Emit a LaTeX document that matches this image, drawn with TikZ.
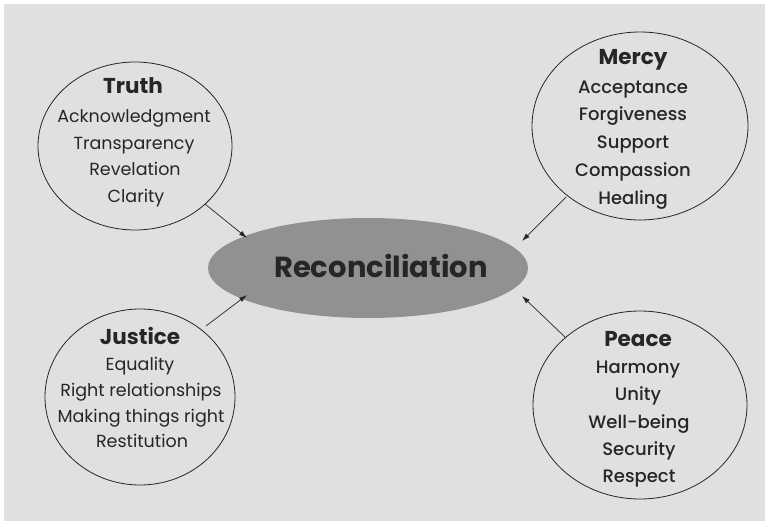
\documentclass[tikz,border=0pt]{standalone}
\usepackage{fontspec}
\setmainfont{Poppins}
\newfontfamily\heavier{Poppins}[UprightFont=* Medium, BoldFont=* SemiBold]
\usetikzlibrary{arrows.meta}
\definecolor{paper}{RGB}{224,224,222}
\definecolor{ink}{RGB}{38,38,38}
\definecolor{hub}{RGB}{145,145,145}
\tikzset{
  rim/.style={draw=ink, line width=0.8pt},
  term/.style={font=\fontsize{17.5}{17.5}\selectfont, text=ink, anchor=center,
    text height=0.75em, text depth=0.22em, inner sep=0pt, yshift=-5pt},
  termm/.style={term, font=\fontsize{18}{18}\selectfont\heavier},
  head/.style={font=\fontsize{21.5}{21.5}\selectfont\bfseries, text=ink, anchor=center,
    text height=0.75em, text depth=0.22em, inner sep=0pt, yshift=-6pt},
  link/.style={draw=ink, line width=0.7pt, -{Latex[length=8pt,width=5pt]}}
}
\begin{document}
\begin{tikzpicture}[x=1pt,y=-1pt]
  \useasboundingbox (0,0) rectangle (765,521);
  \fill[white] (0,0) rectangle (765,521);
  \fill[paper] (4,4) rectangle (765,521);

  % four outer ellipses
  \draw[rim] (135,146) ellipse [x radius=97, y radius=84];
  \draw[rim] (640,126) ellipse [x radius=108, y radius=94];
  \draw[rim] (140,397) ellipse [x radius=95, y radius=88];
  \draw[rim] (640,405) ellipse [x radius=107, y radius=94];

  % central hub
  \fill[hub] (368,268) ellipse [x radius=160, y radius=50];
  \node[head, font=\fontsize{29}{29}\selectfont\bfseries, yshift=-2pt] (hub) at (381,267) {Reconciliation};

  % Truth
  \node[head] (truth) at (133,85) {Truth};
  \node[term] (t1) at (134,115) {Acknowledgment};
  \node[term] (t2) at (134,142) {Transparency};
  \node[term] (t3) at (135,168) {Revelation};
  \node[term] (t4) at (136,195) {Clarity};

  % Mercy
  \node[head] (mercy) at (633,56) {Mercy};
  \node[termm] (m1) at (633,86) {Acceptance};
  \node[termm] (m2) at (633,113) {Forgiveness};
  \node[termm] (m3) at (633,141) {Support};
  \node[termm] (m4) at (633,169) {Compassion};
  \node[termm] (m5) at (633,197) {Healing};

  % Justice
  \node[head] (justice) at (140,336) {Justice};
  \node[term] (j1) at (140,363) {Equality};
  \node[term] (j2) at (141,389) {Right relationships};
  \node[term] (j3) at (141,415) {Making things right};
  \node[term] (j4) at (142,440) {Restitution};

  % Peace
  \node[head] (peace) at (638,338) {Peace};
  \node[termm] (p1) at (638,366) {Harmony};
  \node[termm] (p2) at (638,393) {Unity};
  \node[termm] (p3) at (639,421) {Well-being};
  \node[termm] (p4) at (639,448) {Security};
  \node[termm] (p5) at (639,475) {Respect};

  % connectors
  \coordinate (ta) at (205,204);
  \coordinate (tb) at (247,238);
  \coordinate (ma) at (566,197);
  \coordinate (mb) at (522,241);
  \coordinate (ja) at (206,326);
  \coordinate (jb) at (247,295);
  \coordinate (pa) at (566,338);
  \coordinate (pb) at (522,296);
  \draw[link] (ta) -- (tb);
  \draw[link] (ma) -- (mb);
  \draw[link] (ja) -- (jb);
  \draw[link] (pa) -- (pb);
\end{tikzpicture}
\end{document}
